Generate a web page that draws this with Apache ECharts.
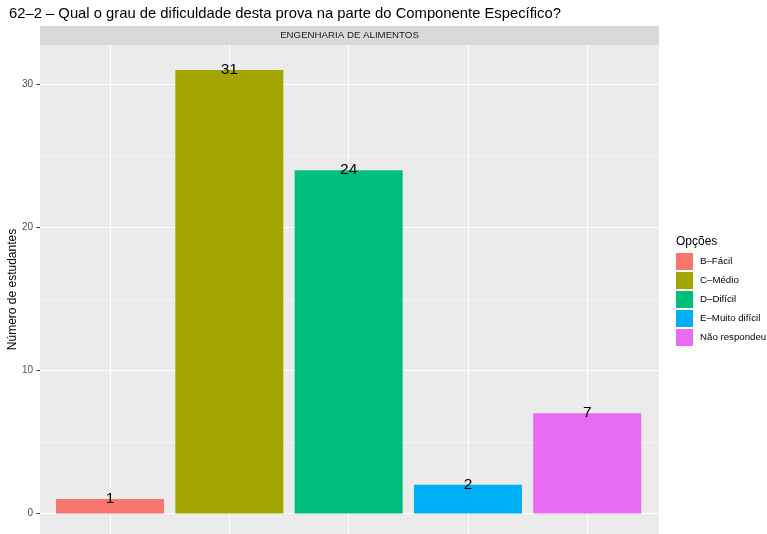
<!DOCTYPE html>
<html><head><meta charset="utf-8">
<script src="https://cdn.jsdelivr.net/npm/echarts@6/dist/echarts.min.js"></script>
<style>html,body{margin:0;padding:0;background:#fff}#c{width:767px;height:534px}</style>
</head><body><div id="c"></div>
<script>
const titleText = '62–2 – Qual o grau de dificuldade desta prova na parte do Componente Específico?';
const facetLabel = 'ENGENHARIA DE ALIMENTOS';
const legendTitle = 'Opções';
const yAxisTitle = 'Número de estudantes';
const categories = ['B–Fácil', 'C–Médio', 'D–Difícil', 'E–Muito difícil', 'Não respondeu'];
const values = [1, 31, 24, 2, 7];
const colors = ['#F8766D', '#A3A500', '#00BF7D', '#00B0F6', '#E76BF3'];
const yTicks = [0, 10, 20, 30];
const yMinor = [5, 15, 25];
const yMin = -1.44, yMax = 32.75;

const FONT = 'Liberation Sans, Arial, Helvetica, sans-serif';
const chart = echarts.init(document.getElementById('c'), null, {renderer: 'canvas'});

const barSeries = categories.map((name, i) => ({
  name: name,
  type: 'bar',
  xAxisIndex: 1, yAxisIndex: 1,
  data: categories.map((c, j) => j === i ? values[i] : '-'),
  barWidth: 108,
  barGap: '-100%',
  z: 10,
  itemStyle: {color: colors[i]},
  label: {
    show: true, position: 'top', distance: -7.5,
    color: '#000', fontSize: 15.5, fontFamily: FONT,
    formatter: p => p.value
  },
  emphasis: {disabled: true},
  silent: true
}));

const option = {
  animation: false,
  backgroundColor: '#FFFFFF',
  color: colors,
  title: [
    {text: titleText, left: 9, top: 6.5, padding: 0,
     textStyle: {fontSize: 14.8, fontWeight: 'normal', color: '#000', fontFamily: FONT}},
    {text: legendTitle, left: 676, top: 236, padding: 0,
     textStyle: {fontSize: 12, fontWeight: 'normal', color: '#000', fontFamily: FONT}}
  ],
  graphic: [
    {type: 'rect', left: 40, top: 26, shape: {width: 619, height: 19}, style: {fill: '#D9D9D9'}, silent: true},
    {type: 'text', x: 349.5, y: 35.5, style: {text: facetLabel, fill: '#1A1A1A', fontSize: 9.7, fontFamily: FONT, align: 'center', verticalAlign: 'middle'}, silent: true},
    {type: 'text', x: 13, y: 289.5, rotation: Math.PI / 2, style: {text: yAxisTitle, fill: '#000', fontSize: 12, fontFamily: FONT, align: 'center', verticalAlign: 'middle'}, silent: true}
  ],
  legend: {
    orient: 'vertical', left: 676, top: 253, padding: 0,
    itemWidth: 17, itemHeight: 17, itemGap: 2,
    icon: 'rect',
    data: categories,
    textStyle: {fontSize: 9.7, color: '#000', fontFamily: FONT, padding: [0, 0, 0, 2]},
    selectedMode: false
  },
  grid: [
    {left: 40, top: 45, width: 619, height: 489, show: true, backgroundColor: '#EBEBEB', borderWidth: 0, containLabel: false, outerBoundsMode: 'none'},
    {left: 50.4, top: 45, width: 596.5, height: 489, show: false, containLabel: false, outerBoundsMode: 'none'}
  ],
  xAxis: [
    {gridIndex: 0, type: 'value', min: 0, max: 1, show: false},
    {gridIndex: 1, type: 'category', data: categories, boundaryGap: true,
     axisLine: {show: false}, axisTick: {show: false}, axisLabel: {show: false}, splitLine: {show: false}}
  ],
  yAxis: [
    {gridIndex: 0, type: 'value', min: yMin, max: yMax,
     axisLine: {show: false},
     axisTick: {show: true, length: 3.5, customValues: yTicks, lineStyle: {color: '#333333', width: 1}},
     axisLabel: {customValues: yTicks, color: '#4D4D4D', fontSize: 10, fontFamily: FONT, margin: 7},
     splitLine: {show: false}},
    {gridIndex: 1, type: 'value', min: yMin, max: yMax, show: false, splitLine: {show: false}}
  ],
  series: [
    {
      type: 'line', xAxisIndex: 0, yAxisIndex: 0, data: [], z: 1, silent: true,
      markLine: {
        z: 1, silent: true, symbol: ['none', 'none'], label: {show: false}, animation: false,
        emphasis: {disabled: true},
        data: yTicks.map(v => ({yAxis: v, lineStyle: {color: '#FFFFFF', width: 1.1, type: 'solid'}}))
          .concat(yMinor.map(v => ({yAxis: v, lineStyle: {color: '#FFFFFF', width: 0.55, type: 'solid'}})))
      }
    },
    {
      type: 'line', xAxisIndex: 1, yAxisIndex: 1, data: [], z: 1, silent: true,
      markLine: {
        z: 1, silent: true, symbol: ['none', 'none'], label: {show: false}, animation: false,
        emphasis: {disabled: true},
        data: categories.map(c => ({xAxis: c, lineStyle: {color: '#FFFFFF', width: 1.1, type: 'solid'}}))
      }
    }
  ].concat(barSeries)
};
chart.setOption(option);
</script>
</body></html>
